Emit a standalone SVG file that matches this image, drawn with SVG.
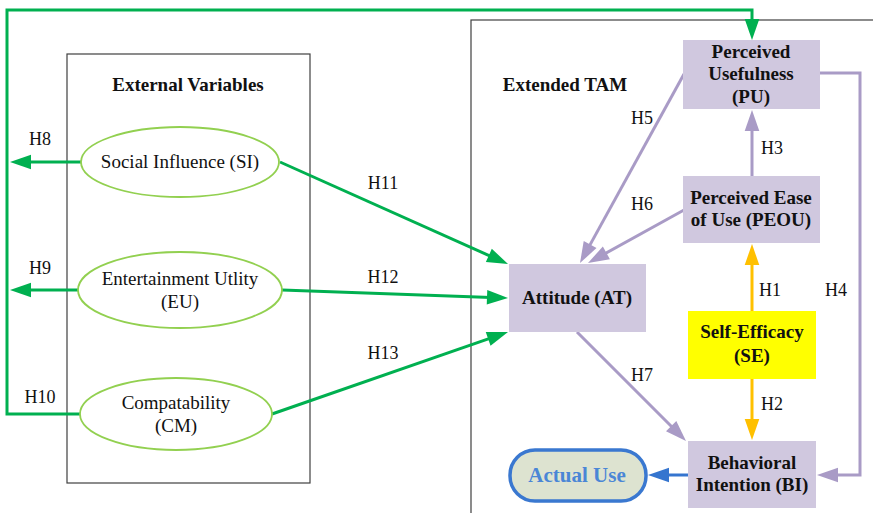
<svg xmlns="http://www.w3.org/2000/svg" width="873" height="513" viewBox="0 0 873 513">
<style>
.frame{fill:none;stroke:#404040;stroke-width:1.2}
.ell{fill:#fff;stroke:#92d050;stroke-width:1.8}
.box{fill:#d0c8df}
.se{fill:#ffff00}
.au{fill:#dde3d0;stroke:#3a78d0;stroke-width:3.5}
.g{fill:none;stroke:#00b050;stroke-width:3}
.gh{fill:#00b050}
.p{fill:none;stroke:#a99bc6;stroke-width:3}
.ph{fill:#a99bc6}
.o{fill:none;stroke:#ffc000;stroke-width:3}
.oh{fill:#ffc000}
.bl{fill:none;stroke:#3575cf;stroke-width:3}
.bh{fill:#3575cf}
</style>
<rect width="873" height="513" fill="#fff"/>

<g id="external-variables">
<rect class="frame" x="67" y="54" width="243" height="429"/>
<text x="188" y="91" font-family="Liberation Serif, serif" font-size="19" font-weight="bold" text-anchor="middle" fill="#111">External Variables</text>
</g>
<g id="extended-tam">
<rect class="frame" x="471" y="20" width="420" height="520"/>
<text x="565" y="91" font-family="Liberation Serif, serif" font-size="19" font-weight="bold" text-anchor="middle" fill="#111">Extended TAM</text>
</g>

<g id="connectors">
<line class="g" x1="81" y1="162" x2="28" y2="162"/>
<polygon class="gh" points="10,162 31,154.7 31,169.3"/>
<line class="g" x1="78" y1="290" x2="28" y2="290"/>
<polygon class="gh" points="10,290 31,282.7 31,297.3"/>
<path class="g" d="M81,414 H7 V10 H752 V22"/>
<polygon class="gh" points="752,40 744.7,19 759.3,19"/>
<line class="g" x1="280" y1="162" x2="492.5" y2="257.1"/>
<polygon class="gh" points="508,264 485.85,262.09 491.81,248.77"/>
<line class="g" x1="282" y1="290" x2="491" y2="297.4"/>
<polygon class="gh" points="508,298 486.75,304.56 487.27,289.96"/>
<line class="g" x1="272" y1="414" x2="491.9" y2="337.6"/>
<polygon class="gh" points="508,332 490.55,345.79 485.77,331.99"/>

<line class="p" x1="752" y1="176" x2="752" y2="127"/>
<polygon class="ph" points="752,110 744.7,131 759.3,131"/>
<line class="p" x1="684" y1="74" x2="588.2" y2="248.1"/>
<polygon class="ph" points="580,263 583.73,241.08 596.51,248.12"/>
<line class="p" x1="684" y1="210" x2="602.9" y2="254.8"/>
<polygon class="ph" points="588,263 602.85,246.46 609.91,259.24"/>
<path class="p" d="M820,73 H860 V475 H834"/>
<polygon class="ph" points="817,475 838,467.7 838,482.3"/>
<line class="p" x1="577" y1="332" x2="674" y2="429"/>
<polygon class="ph" points="686,441 665.99,431.31 676.31,420.99"/>

<line class="o" x1="752" y1="311" x2="752" y2="261"/>
<polygon class="oh" points="752,244 744.7,265 759.3,265"/>
<line class="o" x1="752" y1="379" x2="752" y2="423"/>
<polygon class="oh" points="752,440 744.7,419 759.3,419"/>

<line class="bl" x1="688" y1="475" x2="665" y2="475"/>
<polygon class="bh" points="648,475 669,467.7 669,482.3"/>

<g font-family="Liberation Serif, serif" font-size="18" text-anchor="middle" fill="#111">
<text x="40" y="145" font-family="Liberation Serif, serif">H8</text>
<text x="40" y="274" font-family="Liberation Serif, serif">H9</text>
<text x="40" y="403" font-family="Liberation Serif, serif">H10</text>
<text x="383" y="189" font-family="Liberation Serif, serif">H11</text>
<text x="383" y="283" font-family="Liberation Serif, serif">H12</text>
<text x="383" y="359" font-family="Liberation Serif, serif">H13</text>
<text x="642" y="124" font-family="Liberation Serif, serif">H5</text>
<text x="642" y="210" font-family="Liberation Serif, serif">H6</text>
<text x="772" y="154" font-family="Liberation Serif, serif">H3</text>
<text x="770" y="296" font-family="Liberation Serif, serif">H1</text>
<text x="836" y="296" font-family="Liberation Serif, serif">H4</text>
<text x="642" y="381" font-family="Liberation Serif, serif">H7</text>
<text x="772" y="410" font-family="Liberation Serif, serif">H2</text>
</g>
</g>

<g id="si">
<ellipse class="ell" cx="180" cy="162" rx="99" ry="35"/>
<text x="180" y="168" font-family="Liberation Serif, serif" font-size="19" text-anchor="middle" fill="#111">Social Influence (SI)</text>
</g>
<g id="eu">
<ellipse class="ell" cx="180" cy="290" rx="102" ry="38"/>
<text x="180" y="285" font-family="Liberation Serif, serif" font-size="19" text-anchor="middle" fill="#111">Entertainment Utlity</text>
<text x="180" y="308" font-family="Liberation Serif, serif" font-size="19" text-anchor="middle" fill="#111">(EU)</text>
</g>
<g id="cm">
<ellipse class="ell" cx="176" cy="414" rx="96" ry="36"/>
<text x="176" y="409" font-family="Liberation Serif, serif" font-size="19" text-anchor="middle" fill="#111">Compatability</text>
<text x="176" y="432" font-family="Liberation Serif, serif" font-size="19" text-anchor="middle" fill="#111">(CM)</text>
</g>

<g id="pu">
<rect class="box" x="683" y="40" width="137" height="69"/>
<text x="751" y="58" font-family="Liberation Serif, serif" font-size="19" font-weight="bold" text-anchor="middle" fill="#111">Perceived</text>
<text x="751" y="80" font-family="Liberation Serif, serif" font-size="19" font-weight="bold" text-anchor="middle" fill="#111">Usefulness</text>
<text x="751" y="103" font-family="Liberation Serif, serif" font-size="19" font-weight="bold" text-anchor="middle" fill="#111">(PU)</text>
</g>
<g id="peou">
<rect class="box" x="683" y="176" width="137" height="67"/>
<text x="751" y="204" font-family="Liberation Serif, serif" font-size="19" font-weight="bold" text-anchor="middle" fill="#111">Perceived Ease</text>
<text x="751" y="226" font-family="Liberation Serif, serif" font-size="19" font-weight="bold" text-anchor="middle" fill="#111">of Use (PEOU)</text>
</g>
<g id="at">
<rect class="box" x="509" y="264" width="137" height="68"/>
<text x="577" y="304" font-family="Liberation Serif, serif" font-size="19" font-weight="bold" text-anchor="middle" fill="#111">Attitude (AT)</text>
</g>
<g id="se">
<rect class="se" x="688" y="311" width="128" height="68"/>
<text x="752" y="338" font-family="Liberation Serif, serif" font-size="19" font-weight="bold" text-anchor="middle" fill="#111">Self-Efficacy</text>
<text x="752" y="362" font-family="Liberation Serif, serif" font-size="19" font-weight="bold" text-anchor="middle" fill="#111">(SE)</text>
</g>
<g id="bi">
<rect class="box" x="688" y="441" width="128" height="67"/>
<text x="752" y="469" font-family="Liberation Serif, serif" font-size="19" font-weight="bold" text-anchor="middle" fill="#111">Behavioral</text>
<text x="752" y="491" font-family="Liberation Serif, serif" font-size="19" font-weight="bold" text-anchor="middle" fill="#111">Intention (BI)</text>
</g>
<g id="actual-use">
<rect class="au" x="510" y="450" width="136" height="51" rx="25" ry="25"/>
<text x="577" y="482" font-family="Liberation Serif, serif" font-size="21" font-weight="bold" text-anchor="middle" fill="#4a86d6">Actual Use</text>
</g>
</svg>
